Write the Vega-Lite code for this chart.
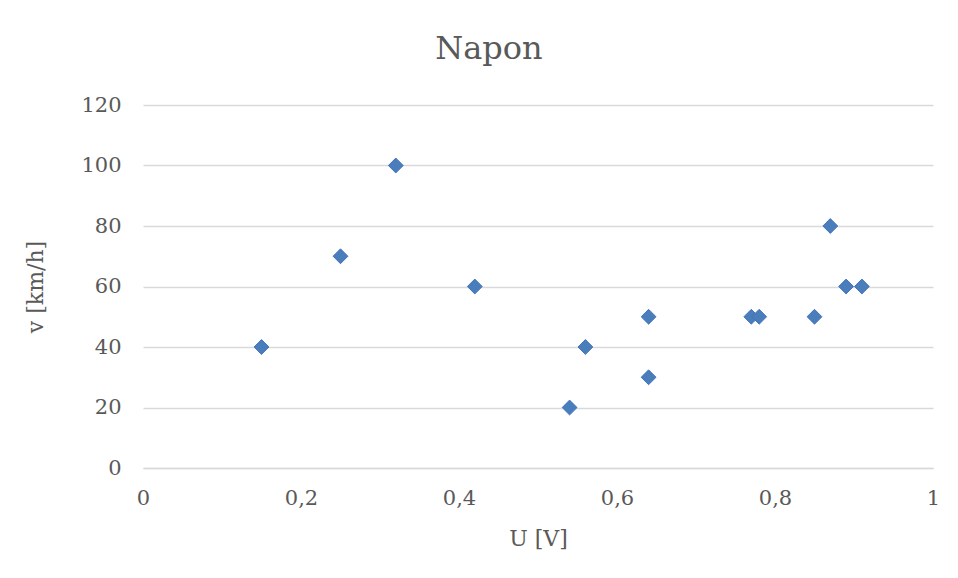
{
  "$schema": "https://vega.github.io/schema/vega-lite/v6.json",
  "autosize": "none",
  "width": 790,
  "height": 363,
  "padding": {"left": 143, "top": 105, "right": 25, "bottom": 110},
  "background": "white",
  "title": {
    "text": "Napon",
    "font": "DejaVu Serif",
    "fontSize": 32,
    "fontWeight": "normal",
    "color": "#595959",
    "anchor": "middle",
    "dx": -49,
    "offset": 28
  },
  "data": {
    "values": [
      {"U": 0.15, "v": 40},
      {"U": 0.25, "v": 70},
      {"U": 0.32, "v": 100},
      {"U": 0.42, "v": 60},
      {"U": 0.54, "v": 20},
      {"U": 0.56, "v": 40},
      {"U": 0.64, "v": 50},
      {"U": 0.64, "v": 30},
      {"U": 0.77, "v": 50},
      {"U": 0.78, "v": 50},
      {"U": 0.85, "v": 50},
      {"U": 0.87, "v": 80},
      {"U": 0.89, "v": 60},
      {"U": 0.91, "v": 60}
    ]
  },
  "mark": {"type": "point", "shape": "diamond", "filled": true, "size": 220, "color": "#4a7ebb", "stroke": "#4472c4", "strokeWidth": 1, "opacity": 1},
  "encoding": {
    "x": {
      "field": "U",
      "type": "quantitative",
      "scale": {"domain": [0, 1], "nice": false, "zero": true},
      "axis": {
        "title": "U [V]",
        "values": [0, 0.2, 0.4, 0.6, 0.8, 1],
        "labelExpr": "replace(format(datum.value, '.1~f'), '.', ',')",
        "labelFlush": false,
        "grid": false,
        "ticks": false,
        "domain": true,
        "domainColor": "#d9d9d9",
        "domainWidth": 1.5,
        "labelPadding": 19,
        "titlePadding": 20
      }
    },
    "y": {
      "field": "v",
      "type": "quantitative",
      "scale": {"domain": [0, 120], "nice": false},
      "axis": {
        "title": "v [km/h]",
        "values": [0, 20, 40, 60, 80, 100, 120],
        "labelFlush": false,
        "grid": true,
        "gridColor": "#d9d9d9",
        "gridWidth": 1.5,
        "ticks": false,
        "domain": false,
        "labelPadding": 22,
        "titlePadding": 33
      }
    }
  },
  "config": {
    "view": {"stroke": null},
    "axis": {
      "labelFont": "DejaVu Serif",
      "labelFontSize": 21,
      "labelColor": "#595959",
      "titleFont": "DejaVu Serif",
      "titleFontSize": 22,
      "titleFontWeight": "normal",
      "titleColor": "#595959"
    }
  }
}
